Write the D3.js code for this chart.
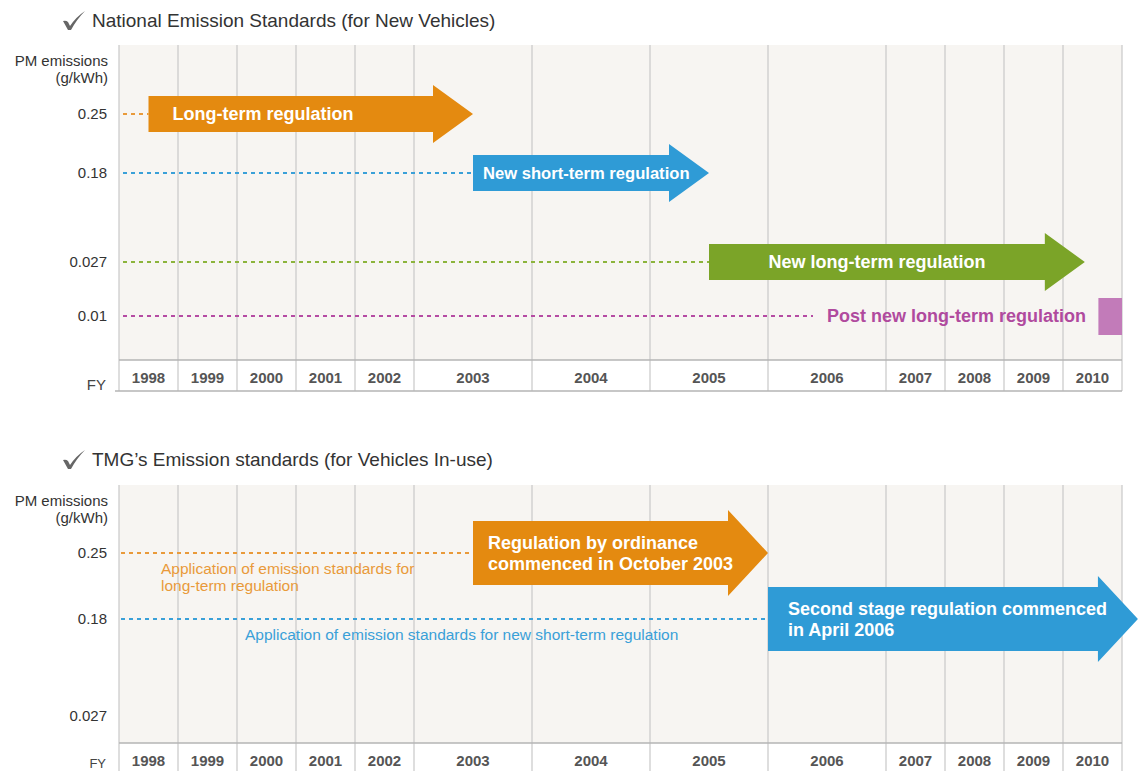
<!DOCTYPE html>
<meta charset="utf-8">
<script src="https://d3js.org/d3.v7.min.js"></script>
<style>
  body { margin: 0; background: #fff; }
  text { font-family: "Liberation Sans", Arial, sans-serif; }
</style>
<div id="my_dataviz"></div>
<script>
  var width = 1138
  var height = 771

  // fiscal years and how many grid units each column takes
  var years = [1998, 1999, 2000, 2001, 2002, 2003, 2004, 2005, 2006, 2007, 2008, 2009, 2010]
  var yearSpan = [1, 1, 1, 1, 1, 2, 2, 2, 2, 1, 1, 1, 1]

  // top panel: national standards
  var topLevels = [0.25, 0.18, 0.027, 0.01]
  var topTicks = ["0.25", "0.18", "0.027", "0.01"]
  var topNames = ["Long-term regulation", "New short-term regulation", "New long-term regulation"]
  var topLevel = [0.25, 0.18, 0.027]
  var topStart = [1998.5, 2003.5, 2005.5]
  var topEnd = [2003.5, 2005.5, 2010.37]
  var topColor = ["#e48a10", "#2f9bd6", "#7ba428"]
  var topDash = ["#e99a3a", "#3aa0d8", "#8cb43c"]
  var postName = "Post new long-term regulation"
  var postLevel = 0.01
  var postStart = 2010.6

  // bottom panel: TMG standards
  var botLevels = [0.25, 0.18, 0.027]
  var botTicks = ["0.25", "0.18", "0.027"]
  var botNames = [["Regulation by ordinance", "commenced in October 2003"],
                  ["Second stage regulation commenced", "in April 2006"]]
  var botLevel = [0.25, 0.18]
  var botStart = [2003.5, 2006]
  var botEnd = [2006, 2011.27]
  var botColor = ["#e48a10", "#2f9bd6"]
  var botNotes = [["Application of emission standards for", "long-term regulation"],
                  ["Application of emission standards for new short-term regulation"]]

  var svg = d3.select("#my_dataviz")
    .append("svg")
      .attr("width", width)
      .attr("height", height)

  // x scale: piecewise, wide columns for 2003-2006
  var unit = 59, left = 119
  var bounds = [years[0]], pos = [left]
  years.forEach(function(y, i){
    bounds.push(y + 1)
    pos.push(pos[pos.length - 1] + yearSpan[i] * unit)
  })
  var x = d3.scaleLinear().domain(bounds).range(pos)
  var right = pos[pos.length - 1]

  function arrowPath(x0, x1, yc, bh, hh, hl) {
    var p = d3.path()
    var xb = x1 - hl
    p.moveTo(x0, yc - bh)
    p.lineTo(xb, yc - bh)
    p.lineTo(xb, yc - hh)
    p.lineTo(x1, yc)
    p.lineTo(xb, yc + hh)
    p.lineTo(xb, yc + bh)
    p.lineTo(x0, yc + bh)
    p.closePath()
    return p.toString()
  }

  function panel(g, opt) {
    // title with tick mark
    g.append("path")
      .attr("d", "M63," + (opt.titleY - 6) + " q3,-1 5,1 l2,4 q6,-9 15,-15 q-8,8 -14,19 l-3,0 z")
      .attr("fill", "#666")
    g.append("text")
      .attr("x", 92).attr("y", opt.titleY)
      .attr("font-size", 19).attr("fill", "#333")
      .text(opt.title)

    // plot background and year row
    g.append("rect")
      .attr("x", left).attr("y", opt.top)
      .attr("width", right - left).attr("height", opt.axisY - opt.top)
      .attr("fill", "#f7f5f2")

    g.selectAll(".vgrid").data(bounds).enter().append("line")
      .attr("x1", function(d){ return x(d) }).attr("x2", function(d){ return x(d) })
      .attr("y1", opt.top).attr("y2", opt.rowBottom)
      .attr("stroke", "#c8c8c8").attr("stroke-width", 1.2)

    g.append("line")
      .attr("x1", left).attr("x2", right)
      .attr("y1", opt.axisY).attr("y2", opt.axisY)
      .attr("stroke", "#b5b5b5").attr("stroke-width", 1.3)
    g.append("line")
      .attr("x1", left - 4).attr("x2", right)
      .attr("y1", opt.rowBottom).attr("y2", opt.rowBottom)
      .attr("stroke", "#b5b5b5").attr("stroke-width", 1.3)

    g.selectAll(".yr").data(years).enter().append("text")
      .attr("x", function(d, i){ return (x(d) + x(d + 1)) / 2 })
      .attr("y", opt.axisY + 23)
      .attr("text-anchor", "middle")
      .attr("font-size", 15).attr("font-weight", "bold").attr("fill", "#555")
      .text(function(d){ return d })

    g.append("text")
      .attr("x", 106).attr("y", opt.fyY)
      .attr("text-anchor", "end").attr("font-size", opt.fySize).attr("fill", "#444")
      .text("FY")

    // y label and ticks
    g.append("text")
      .attr("x", 108).attr("y", opt.top + 21)
      .attr("text-anchor", "end").attr("font-size", 15).attr("fill", "#333")
      .text("PM emissions")
    g.append("text")
      .attr("x", 108).attr("y", opt.top + 38)
      .attr("text-anchor", "end").attr("font-size", 15).attr("fill", "#333")
      .text("(g/kWh)")

    g.selectAll(".tick").data(opt.ticks).enter().append("text")
      .attr("x", 107)
      .attr("y", function(d, i){ return opt.y(opt.levels[i]) + 5 })
      .attr("text-anchor", "end").attr("font-size", 15).attr("fill", "#333")
      .text(function(d){ return d })
  }

  // ---------- top panel ----------
  var y1 = d3.scaleLinear().domain([0.01, 0.027, 0.18, 0.25]).range([316, 262, 173, 114])
  var g1 = svg.append("g")
  panel(g1, { title: "National Emission Standards (for New Vehicles)", titleY: 27,
              top: 45, axisY: 360, rowBottom: 391, fyY: 390, fySize: 15, y: y1, levels: topLevels, ticks: topTicks })

  g1.selectAll(".dash").data(topNames).enter().append("line")
    .attr("x1", left + 4).attr("x2", function(d, i){ return x(topStart[i]) })
    .attr("y1", function(d, i){ return y1(topLevel[i]) })
    .attr("y2", function(d, i){ return y1(topLevel[i]) })
    .attr("stroke", function(d, i){ return topDash[i] })
    .attr("stroke-width", 2).attr("stroke-dasharray", "4,4")

  g1.selectAll(".arrow").data(topNames).enter().append("path")
    .attr("d", function(d, i){ return arrowPath(x(topStart[i]), x(topEnd[i]), y1(topLevel[i]), 18, 29, 40) })
    .attr("fill", function(d, i){ return topColor[i] })

  g1.selectAll(".alabel").data(topNames).enter().append("text")
    .attr("x", function(d, i){ return i == 2 ? (x(topStart[i]) + x(topEnd[i]) - 40) / 2 : x(topStart[i]) + (i == 0 ? 24 : 10) })
    .attr("y", function(d, i){ return y1(topLevel[i]) + 6 })
    .attr("text-anchor", function(d, i){ return i == 2 ? "middle" : "start" })
    .attr("font-size", function(d, i){ return i == 1 ? 16.6 : 18 })
    .attr("font-weight", "bold").attr("fill", "#fff")
    .text(function(d){ return d })

  // post new long-term regulation
  g1.append("line")
    .attr("x1", left + 4).attr("x2", 813)
    .attr("y1", y1(postLevel)).attr("y2", y1(postLevel))
    .attr("stroke", "#b54ba3").attr("stroke-width", 2).attr("stroke-dasharray", "4,4")
  g1.append("text")
    .attr("x", 827).attr("y", y1(postLevel) + 6)
    .attr("font-size", 18).attr("font-weight", "bold").attr("fill", "#b04a9e")
    .text(postName)
  g1.append("rect")
    .attr("x", x(postStart)).attr("y", y1(postLevel) - 18)
    .attr("width", right - x(postStart)).attr("height", 37)
    .attr("fill", "#c27bb9")

  // ---------- bottom panel ----------
  var y2 = d3.scaleLinear().domain([0.027, 0.18, 0.25]).range([716, 619, 553])
  var g2 = svg.append("g")
  panel(g2, { title: "TMG\u2019s Emission standards (for Vehicles In-use)", titleY: 466,
              top: 485, axisY: 743, rowBottom: 775, fyY: 768, fySize: 13, y: y2, levels: botLevels, ticks: botTicks })

  g2.selectAll(".dash").data(botNames).enter().append("line")
    .attr("x1", left + 2).attr("x2", function(d, i){ return x(botStart[i]) })
    .attr("y1", function(d, i){ return y2(botLevel[i]) })
    .attr("y2", function(d, i){ return y2(botLevel[i]) })
    .attr("stroke", function(d, i){ return topDash[i] })
    .attr("stroke-width", 2).attr("stroke-dasharray", "4,4")

  g2.selectAll(".note").data(botNotes).enter().append("text")
    .attr("x", function(d, i){ return i == 0 ? 161 : 245 })
    .attr("y", function(d, i){ return y2(botLevel[i]) + 21 })
    .attr("font-size", 15.5)
    .attr("fill", function(d, i){ return topDash[i] })
    .each(function(d){
      var t = d3.select(this)
      d.forEach(function(s, k){
        t.append("tspan").attr("x", t.attr("x")).attr("dy", k == 0 ? 0 : 17).text(s)
      })
    })

  g2.selectAll(".arrow").data(botNames).enter().append("path")
    .attr("d", function(d, i){ return arrowPath(x(botStart[i]), x(botEnd[i]), y2(botLevel[i]), 32, 43, 40) })
    .attr("fill", function(d, i){ return botColor[i] })

  g2.selectAll(".alabel").data(botNames).enter().append("text")
    .attr("x", function(d, i){ return x(botStart[i]) + (i == 0 ? 15 : 20) })
    .attr("y", function(d, i){ return y2(botLevel[i]) - 4 })
    .attr("font-size", 18).attr("font-weight", "bold").attr("fill", "#fff")
    .each(function(d){
      var t = d3.select(this)
      d.forEach(function(s, k){
        t.append("tspan").attr("x", t.attr("x")).attr("dy", k == 0 ? 0 : 21).text(s)
      })
    })
</script>
